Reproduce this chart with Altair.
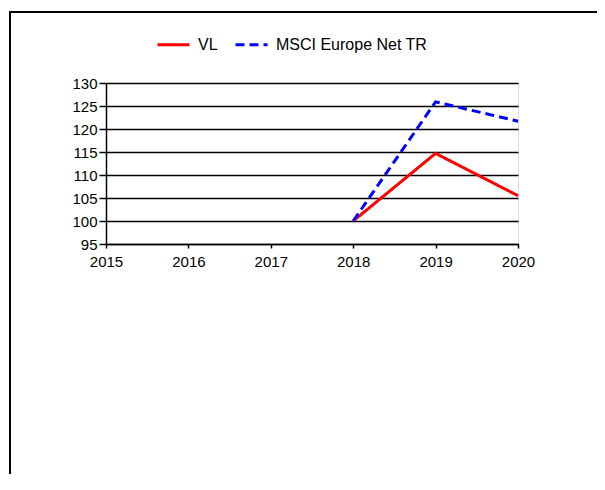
import altair as alt
import pandas as pd

years = [2018, 2019, 2020]
vl_values = [100.0, 114.7, 105.5]
msci_values = [100.0, 125.9, 121.7]
series_names = ["VL", "MSCI Europe Net TR"]
x_ticks = [2015, 2016, 2017, 2018, 2019, 2020]
y_ticks = [95, 100, 105, 110, 115, 120, 125, 130]

rows = []
for y, v in zip(years, vl_values):
    rows.append({"year": y, "value": v, "series": series_names[0]})
for y, v in zip(years, msci_values):
    rows.append({"year": y, "value": v, "series": series_names[1]})
df = pd.DataFrame(rows)

FONT = "Liberation Sans"

legend_cfg = dict(title=None, orient="none", direction="horizontal",
                  legendX=50, legendY=-56,
                  symbolType="stroke", symbolSize=1024,
                  symbolStrokeWidth=3, labelOffset=7,
                  columnPadding=11, labelFont=FONT,
                  labelFontSize=16, labelColor="black")

lines = alt.Chart(df).mark_line(strokeWidth=3, clip=False).encode(
    x=alt.X("year:Q",
            scale=alt.Scale(domain=[2015, 2020], nice=False, zero=False),
            axis=alt.Axis(values=x_ticks, format="d", title=None, grid=False,
                          domainColor="black", domainWidth=1.5,
                          tickColor="black", tickWidth=1.5, tickSize=4,
                          labelPadding=6, labelFont=FONT, labelFontSize=15,
                          labelColor="black", labelFlush=False)),
    y=alt.Y("value:Q",
            scale=alt.Scale(domain=[95, 130], nice=False, zero=False),
            axis=alt.Axis(values=y_ticks, title=None, grid=True,
                          gridColor="black", gridWidth=1.5, gridOpacity=1,
                          domainColor="black", domainWidth=1.5,
                          tickColor="black", tickWidth=1.5, tickSize=7,
                          labelPadding=2, labelFont=FONT, labelFontSize=15,
                          labelColor="black", labelFlush=False)),
    color=alt.Color("series:N",
                    scale=alt.Scale(domain=series_names, range=["#ff0000", "#0000ff"]),
                    legend=alt.Legend(**legend_cfg)),
    strokeDash=alt.StrokeDash("series:N",
                              scale=alt.Scale(domain=series_names, range=[[1, 0], [9, 5]]),
                              legend=alt.Legend(**legend_cfg)),
)

frame = alt.Chart(pd.DataFrame({"k": [0]})).mark_rect(
    fill=None, stroke="black", strokeWidth=2, clip=False
).encode(
    x=alt.value(-96), x2=alt.value(700), y=alt.value(-71), y2=alt.value(700)
)

chart = alt.layer(frame, lines).properties(
    width=412, height=161,
    autosize=alt.AutoSizeParams(type="none"),
    padding={"left": 98, "top": 75, "right": 79, "bottom": 230},
).configure_view(stroke="black", strokeWidth=1.5).configure(background="white")

chart.save("out.html", embed_options={"renderer": "svg", "actions": False})
